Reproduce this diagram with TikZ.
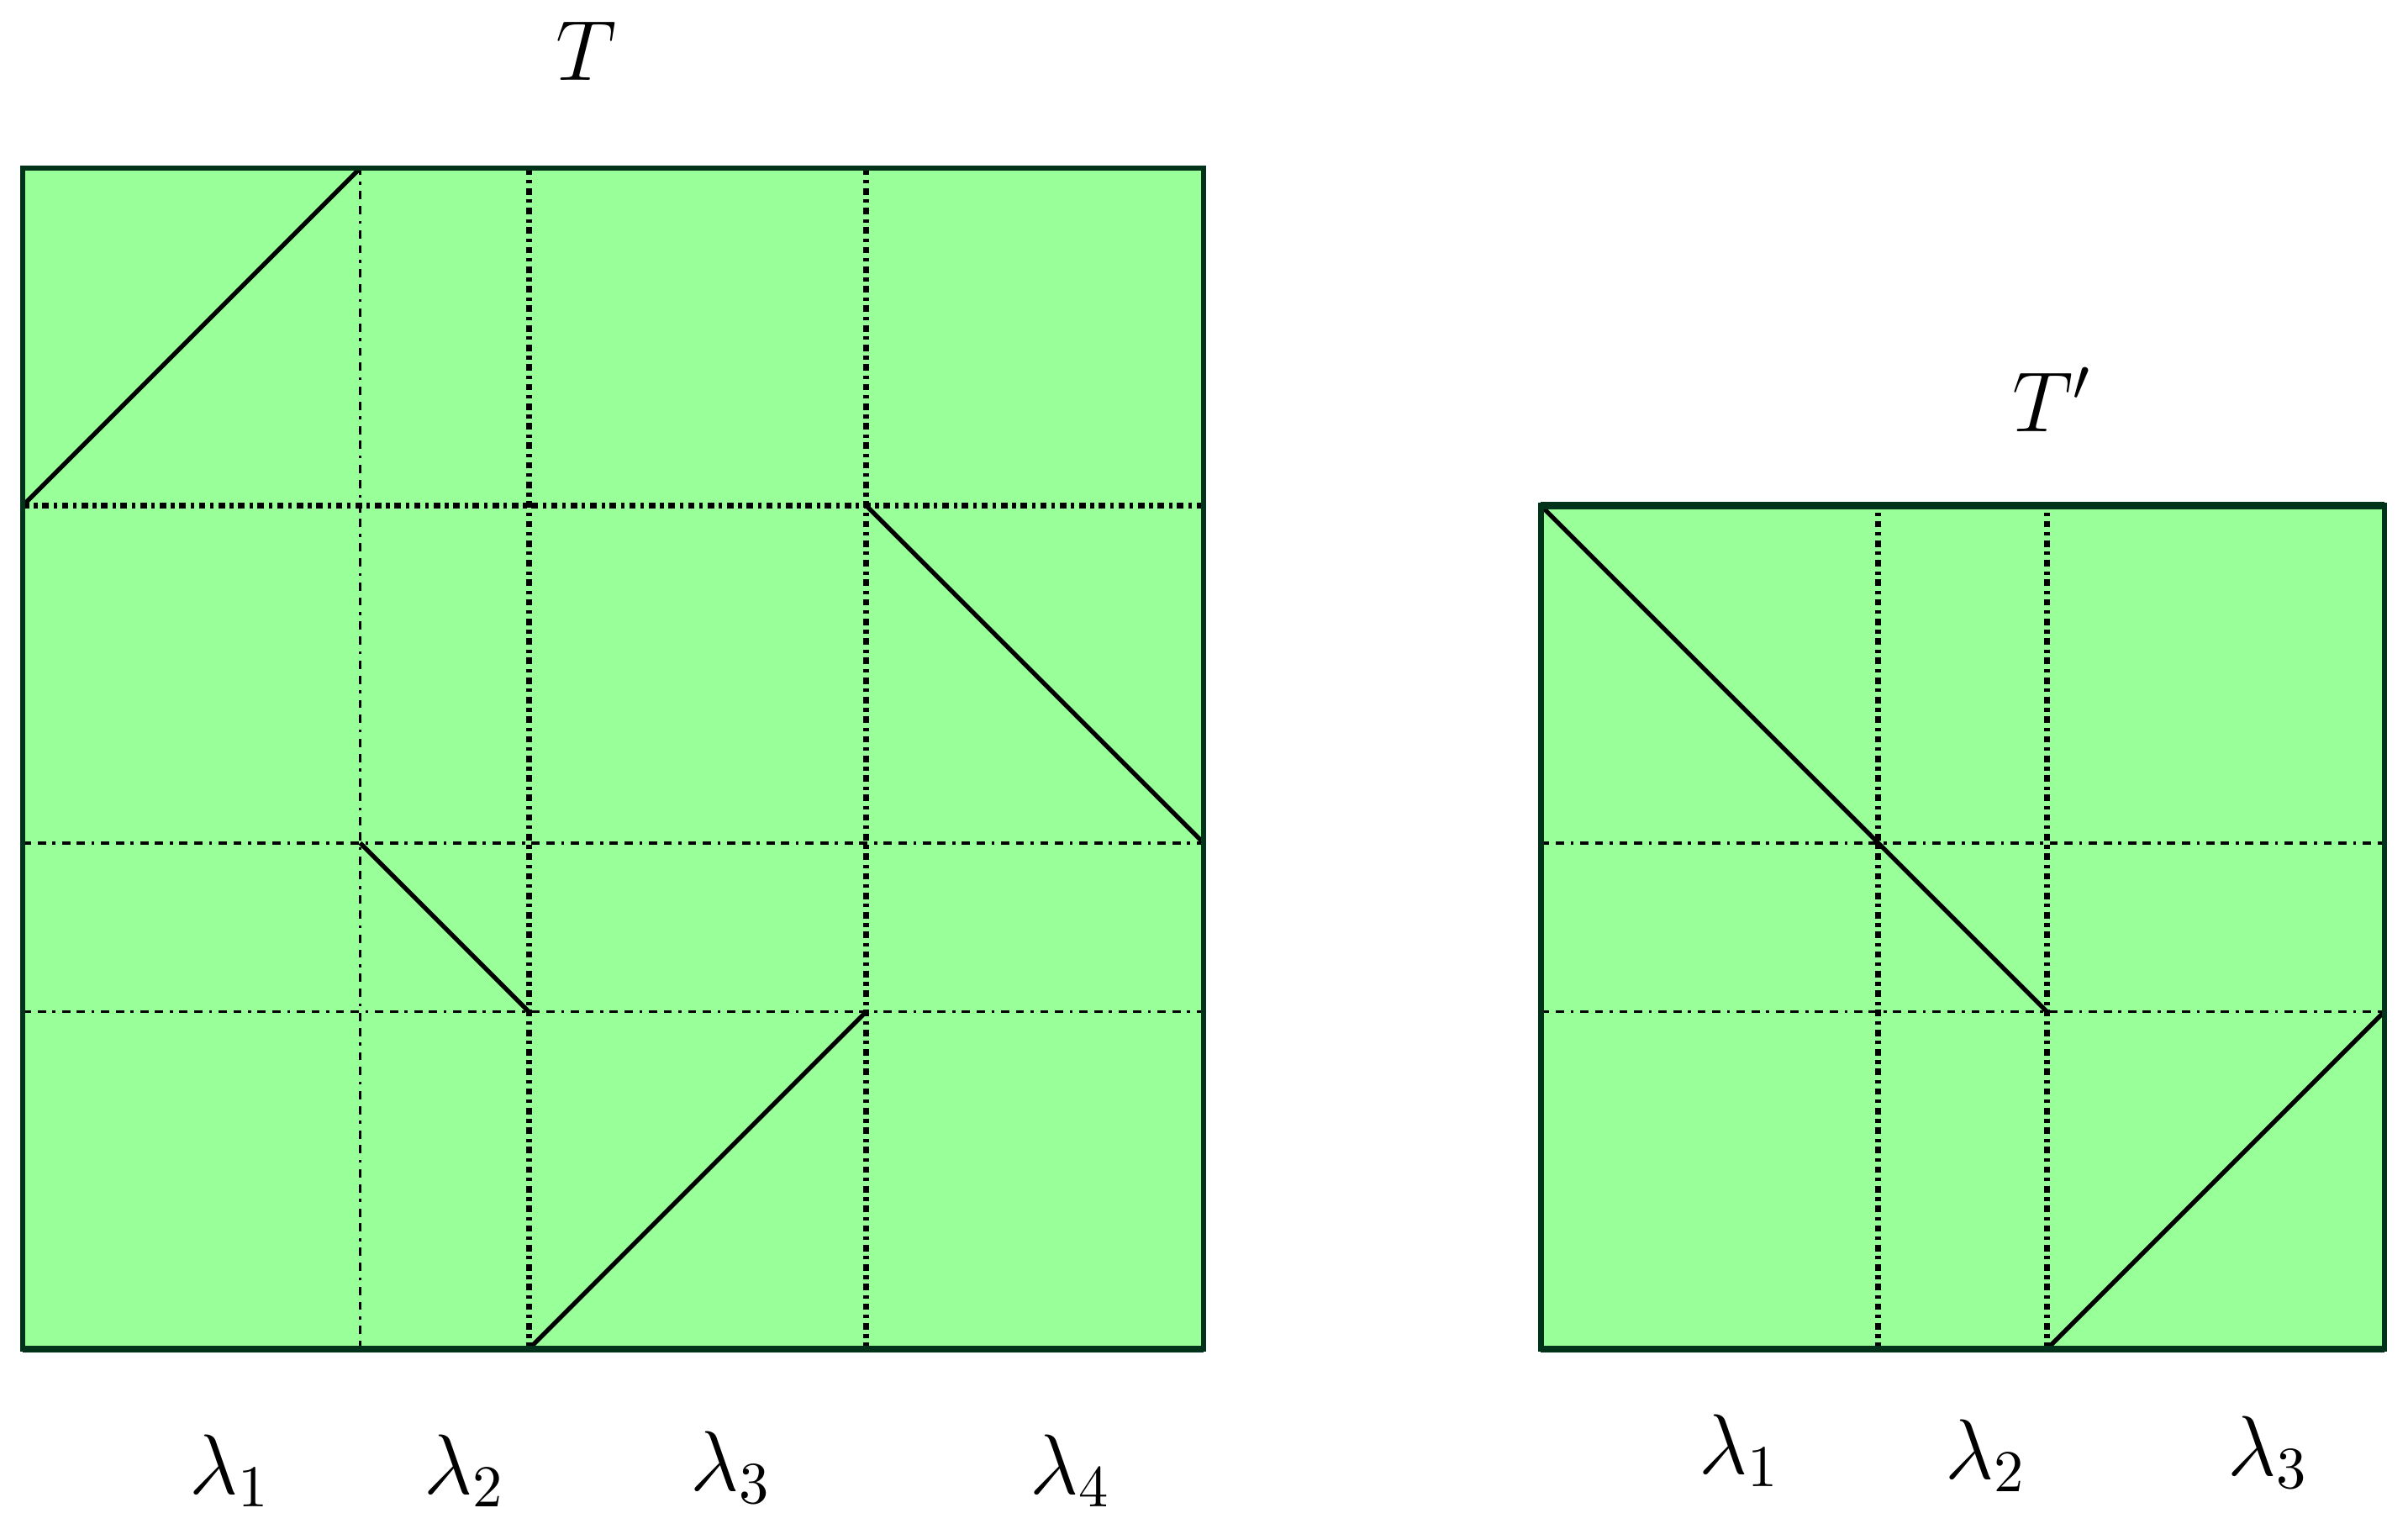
\documentclass[tikz,border=0pt]{standalone}
\begin{document}
\begin{tikzpicture}[x=1cm,y=1cm,
  font=\fontsize{14.2}{17}\selectfont,
  box/.style={draw=boxline,fill=boxfill,line width=0.9pt},
  grid/.style={line width=0.55pt,dash pattern=on 1.4pt off 1.1pt on 1.4pt off 1.1pt on 0.5pt off 1.1pt},
  griddense/.style={line width=0.95pt,dash pattern=on 1.1pt off 0.8pt on 0.6pt off 0.8pt},
  diag/.style={line width=0.75pt,black},
  lbl/.style={anchor=base,inner sep=0pt}]
\definecolor{boxfill}{RGB}{153,255,153}
\definecolor{boxline}{RGB}{0,51,25}
\useasboundingbox (-0.135,-1.066) rectangle (14.14,7.997);
% ---------- square T ----------
\path[box] (0,0) rectangle (7,7);
\draw[grid] (2,0) -- (2,7);
\foreach \x in {3,5} \draw[griddense] (\x,0) -- (\x,7);
\foreach \y in {2,3} \draw[grid] (0,\y) -- (7,\y);
\draw[griddense] (0,5) -- (7,5);
\coordinate (a1) at (0,5); \coordinate (a2) at (2,7);
\coordinate (b1) at (5,5); \coordinate (b2) at (7,3);
\coordinate (c1) at (2,3); \coordinate (c2) at (3,2);
\coordinate (d1) at (3,0); \coordinate (d2) at (5,2);
\draw[diag] (a1) -- (a2);
\draw[diag] (b1) -- (b2);
\draw[diag] (c1) -- (c2);
\draw[diag] (d1) -- (d2);
\draw[boxline,line width=0.9pt] (0,0) rectangle (7,7);
\draw[boxline,line width=1.2pt] (0,0) -- (7,0);
\node[lbl] (T) at (3.34,7.52) {$T$};
\node[lbl] (l1) at (1.23,-0.86) {$\lambda_1$};
\node[lbl] (l2) at (2.62,-0.86) {$\lambda_2$};
\node[lbl] (l3) at (4.20,-0.84) {$\lambda_3$};
\node[lbl] (l4) at (6.21,-0.86) {$\lambda_4$};
% ---------- square T' ----------
\path[box] (9,0) rectangle (14,5);
\foreach \x in {11,12} \draw[griddense] (\x,0) -- (\x,5);
\foreach \y in {2,3} \draw[grid] (9,\y) -- (14,\y);
\coordinate (e1) at (9,5); \coordinate (e2) at (12,2);
\coordinate (f1) at (12,0); \coordinate (f2) at (14,2);
\draw[diag] (e1) -- (e2);
\draw[diag] (f1) -- (f2);
\draw[boxline,line width=0.9pt] (9,0) rectangle (14,5);
\draw[boxline,line width=1.2pt] (9,0) -- (14,0) (9,5) -- (14,5);
\node[lbl] (Tp) at (12.03,5.44) {$T'$};
\node[lbl] (m1) at (10.18,-0.74) {$\lambda_1$};
\node[lbl] (m2) at (11.64,-0.77) {$\lambda_2$};
\node[lbl] (m3) at (13.31,-0.75) {$\lambda_3$};
\end{tikzpicture}
\end{document}
